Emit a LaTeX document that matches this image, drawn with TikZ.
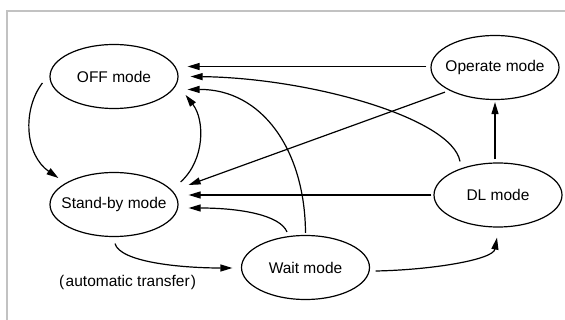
\documentclass[tikz,border=0pt]{standalone}
\usepackage{fontspec}
\setmainfont{Liberation Sans}
\usetikzlibrary{shapes.geometric,arrows.meta}
\definecolor{framegray}{HTML}{C2C2C2}
\begin{document}
\begin{tikzpicture}[x=1pt,y=-1pt,
  mode/.style={ellipse,draw,line width=1.2pt,minimum width=128pt,
    minimum height=64pt,inner xsep=-20pt,inner ysep=0pt,
    font=\fontsize{15.5}{18}\selectfont},
  link/.style={line width=1.2pt,-{Triangle[length=12pt,width=7pt]}},
  framedge/.style={draw=framegray,line width=2pt}]
\useasboundingbox (0,0) rectangle (565,320);
\fill[white] (0,0) rectangle (565,320);
\draw[framedge] (7,320) -- (7,11) -- (565,11);

% states
\node[mode] (off)  at (114,76.5)  {OFF mode};
\node[mode] (stby) at (114,204.5) {Stand-by mode};
\node[mode] (oper) at (495,67.5)  {Operate mode};
\node[mode] (dl)   at (498,195)   {DL mode};
\node[mode] (wait) at (305.5,267.5) {Wait mode};
\node[font=\fontsize{15.5}{18}\selectfont] (auto) at (127.5,282)
  {(\kern1.5pt automatic transfer\kern1pt)};

% transitions into OFF mode
\draw[link] ([shift={(-4,-1)}]oper.west) -- ([shift={(9,-10)}]off.east);
\draw[link] ([shift={(-38,-1)}]dl.north) .. controls (452,118) and (310,78)
  .. ([shift={(12,0)}]off.east);
\draw[link] ([shift={(0,-2)}]wait.north) .. controls (305,150) and (262,89)
  .. ([shift={(9,13)}]off.east);
\draw[link] ([shift={(2,-22.5)}]stby.east) .. controls (205,160) and (205,120)
  .. ([shift={(7,18.5)}]off.east);

% transitions into Stand-by mode
\draw[link] ([shift={(-7,6.5)}]off.west) .. controls (22,110) and (25,155)
  .. ([shift={(9,-26.5)}]stby.west);
\draw[link] ([shift={(-50,-8)}]oper.south) -- ([shift={(10,-19.5)}]stby.east);
\draw[link] ([shift={(-2,0)}]dl.west) -- ([shift={(10,-9.5)}]stby.east);
\draw[link] ([shift={(-18.5,-3)}]wait.north) .. controls (280,215) and (240,208)
  .. ([shift={(10,3.5)}]stby.east);

% remaining transitions
\draw[link] ([shift={(1,6.5)}]stby.south) .. controls (120,262) and (180,268)
  .. ([shift={(-8.5,0.5)}]wait.west);
\draw[link] ([shift={(5.5,3.5)}]wait.east) .. controls (430,270) and (493,260)
  .. ([shift={(-1,10)}]dl.south);
\draw[link] ([shift={(-3,-3)}]dl.north) -- ([shift={(0,2)}]oper.south);
\end{tikzpicture}
\end{document}
